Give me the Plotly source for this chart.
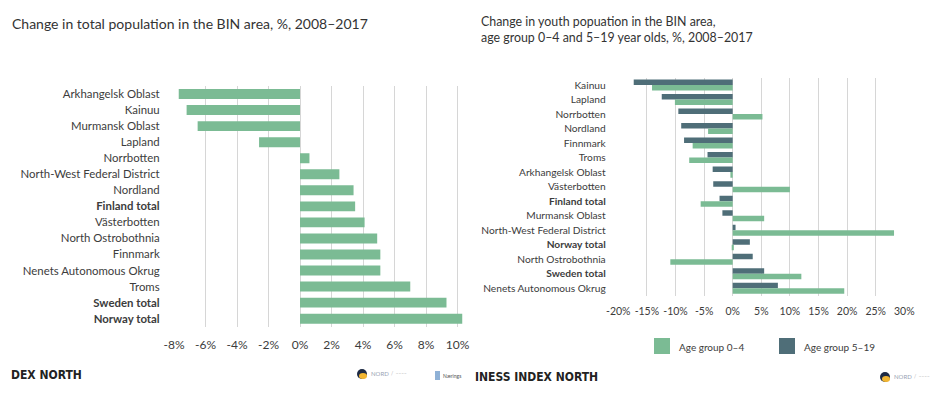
import plotly.graph_objects as go

# ---------------- data ----------------
total_regions = ["Arkhangelsk Oblast", "Kainuu", "Murmansk Oblast", "Lapland", "Norrbotten",
                 "North-West Federal District", "Nordland", "Finland total", "Västerbotten",
                 "North Ostrobothnia", "Finnmark", "Nenets Autonomous Okrug", "Troms",
                 "Sweden total", "Norway total"]
total_change = [-7.7, -7.2, -6.5, -2.6, 0.6, 2.5, 3.4, 3.5, 4.1, 4.9, 5.1, 5.1, 7.0, 9.3, 10.3]
total_ticks = [-8, -6, -4, -2, 0, 2, 4, 6, 8, 10]

youth_regions = ["Kainuu", "Lapland", "Norrbotten", "Nordland", "Finnmark", "Troms",
                 "Arkhangelsk Oblast", "Västerbotten", "Finland total", "Murmansk Oblast",
                 "North-West Federal District", "Norway total", "North Ostrobothnia",
                 "Sweden total", "Nenets Autonomous Okrug"]
age_0_4 = [-14.1, -10.1, 5.2, -4.3, -7.0, -7.6, -0.4, 10.0, -5.6, 5.5, 28.2, 0.2, -10.9, 12.0, 19.5]
age_5_19 = [-17.3, -12.4, -9.5, -9.0, -8.5, -4.4, -3.5, -3.4, -2.3, -1.8, 0.5, 3.0, 3.5, 5.5, 7.9]
youth_ticks = [-20, -15, -10, -5, 0, 5, 10, 15, 20, 25, 30]

totals = {"Finland total", "Sweden total", "Norway total"}

GREEN = "#7bbb94"
DARK = "#4f6e78"
GRID = "#d6d6d6"
TXT = "#3c3c3c"
FONT = "Lato, 'Noto Sans', sans-serif"

W, H = 938, 394
OFF = 8  # page body margin offset
def fx(p):
    return (p - OFF) / W
def fy(p):
    return 1 - (p - OFF) / H

def lab(names):
    return ["<b>%s</b>" % n if n in totals else n for n in names]

fig = go.Figure()

fig.add_trace(go.Bar(
    y=total_regions, x=total_change, orientation="h", width=0.62,
    marker=dict(color=GREEN, line=dict(width=0)),
    xaxis="x", yaxis="y", showlegend=False, hoverinfo="x+y"))

fig.add_trace(go.Bar(
    y=youth_regions, x=age_5_19, orientation="h", name="Age group 5–19",
    marker=dict(color=DARK, line=dict(width=0)),
    xaxis="x2", yaxis="y2", showlegend=False, offsetgroup="a"))
fig.add_trace(go.Bar(
    y=youth_regions, x=age_0_4, orientation="h", name="Age group 0–4",
    marker=dict(color=GREEN, line=dict(width=0)),
    xaxis="x2", yaxis="y2", showlegend=False, offsetgroup="b"))

fig.update_layout(
    template="none",
    width=W, height=H,
    margin=dict(l=0, r=0, t=0, b=0, pad=0, autoexpand=False),
    paper_bgcolor="white", plot_bgcolor="white",
    font=dict(family=FONT, color=TXT, size=10),
    barmode="group", bargap=0.24, bargroupgap=0.0,
    xaxis=dict(domain=[fx(173.7), fx(464.6)], range=[-8.02, 10.45], anchor="y",
               automargin=False,
               tickmode="array", tickvals=total_ticks,
               ticktext=["%d%%" % t for t in total_ticks],
               showgrid=True, gridcolor=GRID, gridwidth=1, zeroline=False,
               showline=False, ticks="", ticklabelstandoff=9,
               tickfont=dict(size=12, color=TXT)),
    yaxis=dict(domain=[fy(326.7), fy(86)], anchor="x", type="category",
               automargin=False,
               categoryorder="array", categoryarray=total_regions,
               range=[14.5, -0.5], tickmode="array", tickvals=total_regions,
               ticktext=lab(total_regions), showgrid=False, zeroline=False,
               showline=False, ticks="", ticklabelstandoff=13,
               tickfont=dict(size=11.4, color=TXT)),
    xaxis2=dict(domain=[fx(617.7), fx(904.9)], range=[-20.1, 30.1], anchor="y2",
                automargin=False,
                tickmode="array", tickvals=youth_ticks,
                ticktext=["%d%%" % t for t in youth_ticks],
                showgrid=True, gridcolor=GRID, gridwidth=1, zeroline=False,
                showline=False, ticks="", ticklabelstandoff=8,
                tickfont=dict(size=10.5, color=TXT)),
    yaxis2=dict(domain=[fy(295.6), fy(77.7)], anchor="x2", type="category",
                automargin=False,
                categoryorder="array", categoryarray=youth_regions,
                range=[14.5, -0.5], tickmode="array", tickvals=youth_regions,
                ticktext=lab(youth_regions), showgrid=False, zeroline=False,
                showline=False, ticks="", ticklabelstandoff=11,
                tickfont=dict(size=10.2, color=TXT)),
)

ann = []
shapes = []
# titles
ann.append(dict(text="Change in total population in the BIN area, %, 2008–2017",
                x=fx(10), y=fy(23), xref="paper", yref="paper", xanchor="left",
                yanchor="middle", showarrow=False, font=dict(size=14, color="#333")))
ann.append(dict(text="Change in youth popuation in the BIN area,<br>age group 0–4 and 5–19 year olds, %, 2008–2017",
                x=fx(479), y=fy(29.5), xref="paper", yref="paper", xanchor="left",
                yanchor="middle", align="left", showarrow=False,
                font=dict(size=12.4, color="#333")))

# legend
for x0, col, name in [(654, GREEN, "Age group 0–4"), (779, DARK, "Age group 5–19")]:
    shapes.append(dict(type="rect", xref="paper", yref="paper",
                       x0=fx(x0), x1=fx(x0 + 16), y0=fy(354), y1=fy(338),
                       fillcolor=col, line=dict(width=0)))
    ann.append(dict(text=name, x=fx(x0 + 23), y=fy(346.5), xref="paper", yref="paper",
                    xanchor="left", yanchor="middle", showarrow=False,
                    font=dict(size=10, color=TXT)))

# footers
FOOT = "'DejaVu Sans Condensed', 'Liberation Sans Narrow', sans-serif"
ann.append(dict(text="<b>DEX NORTH</b>", x=fx(9), y=fy(375),
                xref="paper", yref="paper", xanchor="left", yanchor="middle", showarrow=False,
                font=dict(family=FOOT, size=12, color="#222")))
ann.append(dict(text="<b>INESS INDEX NORTH</b>", x=fx(473), y=fy(377),
                xref="paper", yref="paper", xanchor="left", yanchor="middle", showarrow=False,
                font=dict(family=FOOT, size=12, color="#222")))

# small logos
for cx, cy in [(362, 374), (885, 377)]:
    shapes.append(dict(type="circle", xref="paper", yref="paper",
                       x0=fx(cx - 5), x1=fx(cx + 5), y0=fy(cy + 5), y1=fy(cy - 5),
                       fillcolor="#1d2a44", line=dict(width=0)))
    shapes.append(dict(type="circle", xref="paper", yref="paper",
                       x0=fx(cx - 3), x1=fx(cx + 5), y0=fy(cy + 5), y1=fy(cy - 1),
                       fillcolor="#f2b632", line=dict(width=0)))
    ann.append(dict(text="NORD", x=fx(cx + 7), y=fy(cy - 1), xref="paper", yref="paper",
                    xanchor="left", yanchor="middle", showarrow=False,
                    font=dict(size=6, color="#9aa3b5")))
    ann.append(dict(text="/  ‒‒‒‒", x=fx(cx + 27), y=fy(cy - 1), xref="paper", yref="paper",
                    xanchor="left", yanchor="middle", showarrow=False,
                    font=dict(size=5, color="#b0b0b0")))
shapes.append(dict(type="rect", xref="paper", yref="paper",
                   x0=fx(435), x1=fx(440), y0=fy(380), y1=fy(371),
                   fillcolor="#8fb1d6", line=dict(width=0)))
ann.append(dict(text="Nærings", x=fx(441), y=fy(376), xref="paper", yref="paper",
                xanchor="left", yanchor="middle", showarrow=False,
                font=dict(size=5, color="#555")))

fig.update_layout(annotations=ann, shapes=shapes)
fig.write_html("out.html")
